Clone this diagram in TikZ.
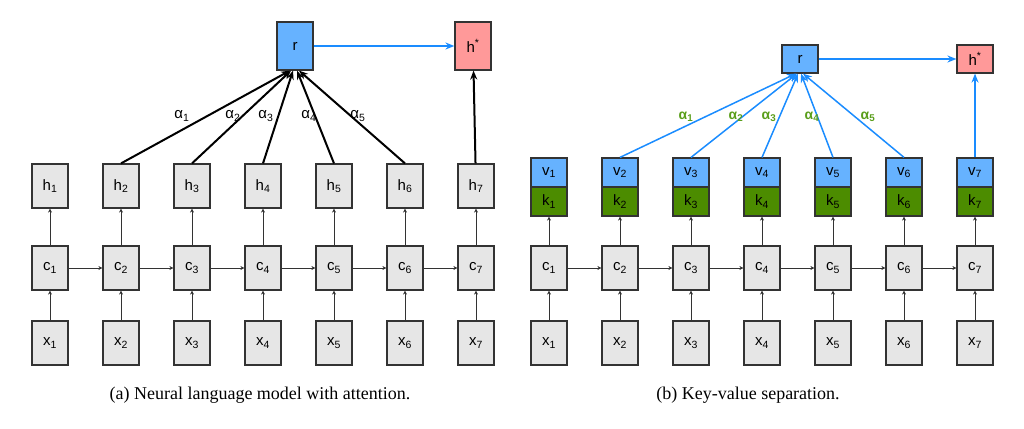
\documentclass[tikz,border=0pt]{standalone}
\usepackage{fontspec}
\setmainfont{Liberation Serif}
\newfontfamily\boxfont{Liberation Sans}
\usetikzlibrary{arrows.meta,positioning}
\definecolor{boxgray}{HTML}{E6E6E6}
\definecolor{boxline}{HTML}{333333}
\definecolor{rblue}{HTML}{66B2FF}
\definecolor{kgreen}{HTML}{4C8C00}
\definecolor{hred}{HTML}{FF9999}
\definecolor{arrblue}{HTML}{1A8CFF}
\definecolor{alphagreen}{HTML}{5A9E1B}
\tikzset{
    % Define standard arrow tip
    >={Stealth[length=4pt,width=4pt]},
    % Define style for boxes
    cell/.style={
           rectangle,
           draw=boxline,
           line width=1.2pt,
           fill=boxgray,
           minimum width=36pt,
           minimum height=44pt,
           inner sep=0pt,
           font=\boxfont\fontsize{15}{15}\selectfont},
    half/.style={cell, minimum height=29pt},
    % Define arrow styles
    thin/.style={->, line width=0.6pt, draw=boxline},
    attn/.style={->, line width=2pt, >={Stealth[length=9pt,width=7pt]}},
    alab/.style={font=\boxfont\fontsize{15}{15}\selectfont}
}
\begin{document}
\begin{tikzpicture}[x=1pt, y=-1pt]
    \useasboundingbox (0,0) rectangle (1024,428);
    % left panel
    \foreach \i in {1,...,7} {
        \node [cell] (h\i) at ({50+71*(\i-1)},186) {h\textsubscript{\i}};
        \node [cell] (c\i) at ({50+71*(\i-1)},268) {c\textsubscript{\i}};
        \node [cell] (x\i) at ({50+71*(\i-1)},343) {x\textsubscript{\i}};
        \draw [thin] (x\i) -- (c\i);
        \draw [thin] (c\i) -- (h\i);
    }
    \foreach \i [evaluate=\i as \j using int(\i+1)] in {1,...,6}
        \draw [thin] (c\i) -- (c\j);
    \node [cell, fill=rblue, minimum height=48pt] (r) at (295,46) {r};
    \node [cell, fill=hred, minimum height=48pt] (hs) at (473,46) {h\textsuperscript{*}};
    \draw [attn, draw=arrblue, line width=1.5pt] (r) -- (hs);
    \draw [attn] (h7) -- (hs);
    \foreach \i/\dx in {2/-5,3/-4,4/-2,5/2,6/4}
        \draw [attn] (h\i.north) -- ([xshift=\dx pt]r.south);
    \foreach \k/\xx in {1/182,2/233,3/266,4/309,5/358}
        \node [alab] at (\xx,116) {α\textsubscript{\k}};
    \node at (260,395) {\fontsize{18}{18}\selectfont (a) Neural language model with attention.};
    % right panel
    \foreach \i in {1,...,7} {
        \node [half, fill=rblue] (v\i) at ({549+71*(\i-1)},172.5) {v\textsubscript{\i}};
        \node [half, fill=kgreen] (k\i) at ({549+71*(\i-1)},201.5) {k\textsubscript{\i}};
        \node [cell] (cc\i) at ({549+71*(\i-1)},268) {c\textsubscript{\i}};
        \node [cell] (xx\i) at ({549+71*(\i-1)},343) {x\textsubscript{\i}};
        \draw [thin] (xx\i) -- (cc\i);
        \draw [thin] (cc\i) -- (k\i);
    }
    \foreach \i [evaluate=\i as \j using int(\i+1)] in {1,...,6}
        \draw [thin] (cc\i) -- (cc\j);
    \node [cell, fill=rblue, minimum height=28pt] (rr) at (800,59) {r};
    \node [cell, fill=hred, minimum height=28pt] (hhs) at (975,59) {h\textsuperscript{*}};
    \draw [attn, draw=arrblue, line width=1.5pt] (rr) -- (hhs);
    \draw [attn, draw=arrblue, line width=1.5pt] (v7) -- (hhs);
    \foreach \i/\dx in {2/-4,3/-3,4/-2,5/1,6/3}
        \draw [attn, draw=arrblue, line width=1.5pt] (v\i.north) -- ([xshift=\dx pt]rr.south);
    \foreach \k/\xx in {1/686,2/736,3/769,4/812,5/868}
        \node [alab, text=alphagreen, font=\boxfont\bfseries\fontsize{14}{14}\selectfont] at (\xx,117) {α\textsubscript{\k}};
    \node at (748,395) {\fontsize{18}{18}\selectfont (b) Key-value separation.};
\end{tikzpicture}
\end{document}
